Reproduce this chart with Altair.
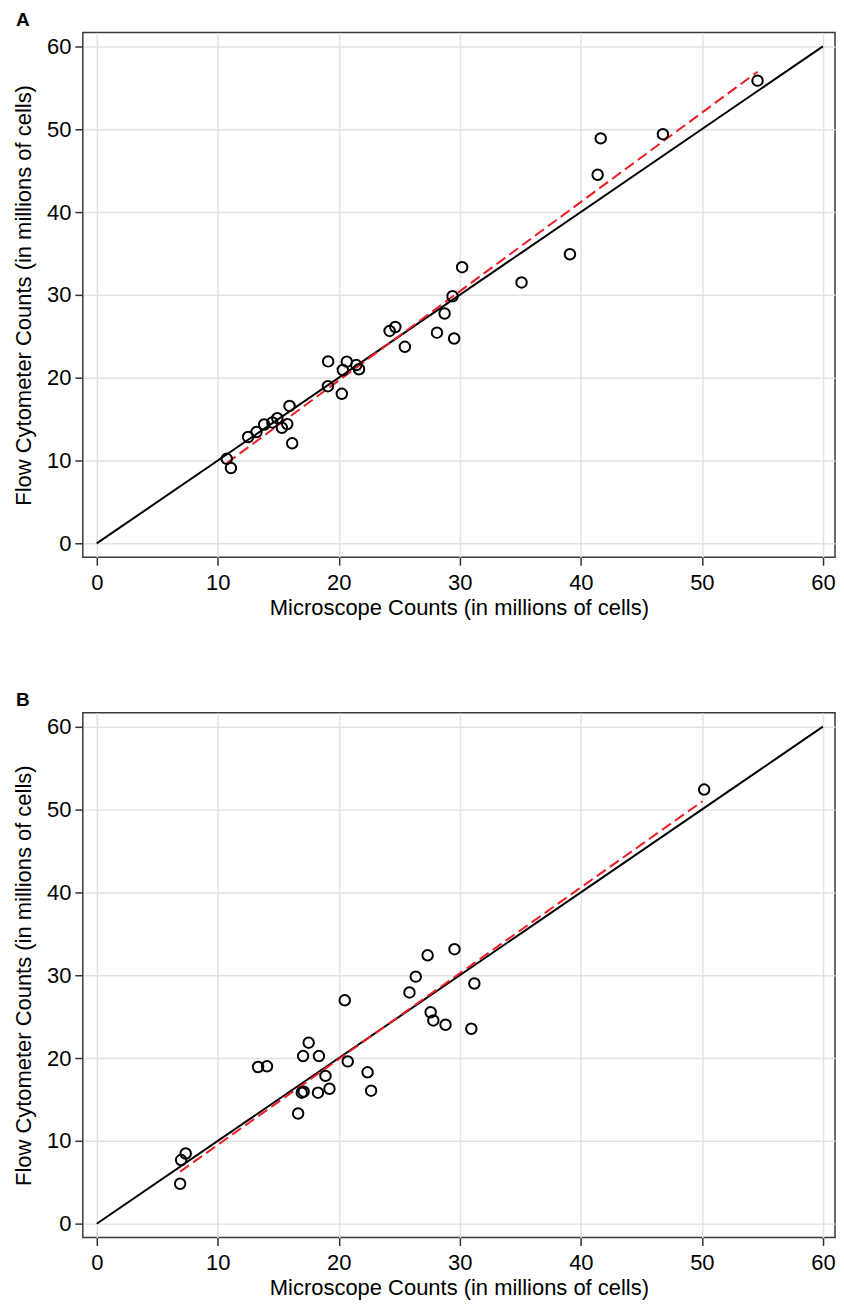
import altair as alt
import pandas as pd

# ---- Panel A data (microscope vs flow cytometer, millions of cells) ----
a_micro = [10.74, 11.09, 12.51, 13.2, 13.83, 14.51, 14.92, 15.30, 15.74, 15.93, 16.15,
           19.12, 19.1, 20.25, 20.33, 20.66, 21.45, 21.67, 24.2, 24.67, 25.46,
           28.11, 28.74, 29.4, 29.53, 30.19, 35.1, 39.1, 41.39, 41.64, 46.78, 54.6]
a_flow = [10.21, 9.09, 12.84, 13.44, 14.35, 14.6, 15.12, 13.96, 14.4, 16.59, 12.08,
          21.97, 18.98, 18.06, 20.93, 21.94, 21.53, 21.02, 25.65, 26.12, 23.73,
          25.44, 27.75, 29.83, 24.73, 33.34, 31.5, 34.9, 44.5, 48.89, 49.4, 55.86]
a_fit_x = [10.74, 54.6]
a_fit_y = [9.69, 56.94]

# ---- Panel B data ----
b_micro = [6.89, 6.97, 7.35, 13.33, 14.07, 16.64, 16.94, 17.1, 17.05, 17.51, 18.36,
           18.9, 18.28, 19.23, 20.49, 20.74, 22.38, 22.67, 25.84, 26.36, 27.34,
           29.56, 31.2, 27.59, 27.81, 28.82, 30.95, 50.19]
b_flow = [4.83, 7.69, 8.48, 18.92, 19.0, 13.31, 15.82, 15.95, 20.24, 21.86, 20.24,
          17.85, 15.82, 16.3, 26.97, 19.6, 18.28, 16.06, 27.92, 29.83, 32.4,
          33.14, 29.0, 25.53, 24.54, 24.02, 23.54, 52.41]
b_fit_x = [6.89, 50.05]
b_fit_y = [6.30, 51.0]

# identity line
ident = [0, 60]
ticks = [0, 10, 20, 30, 40, 50, 60]

X_TITLE = "Microscope Counts (in millions of cells)"
Y_TITLE = "Flow Cytometer Counts (in millions of cells)"
FONT = "Liberation Sans"

W, H = 754, 526

xscale = alt.Scale(domain=[-1.15, 61.0], nice=False, zero=False)
yscale = alt.Scale(domain=[-1.67, 61.67], nice=False, zero=False)


def panel(label, mx, fy, fx, fyy):
    pts = pd.DataFrame({"micro": mx, "flow": fy})
    idl = pd.DataFrame({"micro": ident, "flow": ident})
    fit = pd.DataFrame({"micro": fx, "flow": fyy})
    lab = pd.DataFrame({"t": [label]})

    xenc = alt.X("micro:Q", scale=xscale, title=X_TITLE,
                 axis=alt.Axis(values=ticks))
    yenc = alt.Y("flow:Q", scale=yscale, title=Y_TITLE,
                 axis=alt.Axis(values=ticks))

    id_line = alt.Chart(idl).mark_line(color="black", strokeWidth=2).encode(
        x=xenc, y=yenc)
    fit_line = alt.Chart(fit).mark_line(
        color="#ee1c25", strokeWidth=2, strokeDash=[11, 5]).encode(x=xenc, y=yenc)
    points = alt.Chart(pts).mark_point(
        shape="circle", filled=False, color="black", size=110, strokeWidth=2,
        opacity=1).encode(x=xenc, y=yenc)
    letter = alt.Chart(lab).mark_text(
        align="left", baseline="alphabetic", font=FONT, fontSize=19,
        fontWeight="bold", color="black").encode(
        text="t:N", x=alt.value(-67), y=alt.value(-7))

    return alt.layer(id_line, fit_line, points, letter).properties(
        width=W, height=H)


chart = alt.vconcat(
    panel("A", a_micro, a_flow, a_fit_x, a_fit_y),
    panel("B", b_micro, b_flow, b_fit_x, b_fit_y),
    spacing=71,
).configure_axis(
    labelFont=FONT, labelFontSize=22, labelColor="black",
    titleFont=FONT, titleFontSize=22, titleFontWeight="normal", titleColor="black",
    tickSize=8, tickColor="#333333", tickWidth=1.5,
    domain=False,
    grid=True, gridColor="#e2e2e2", gridWidth=1.5,
).configure_axisY(
    labelPadding=4,
    titlePadding=11,
).configure_axisX(
    labelPadding=7,
    titlePadding=4,
).configure_view(
    stroke="#3a3a3a", strokeWidth=1.5,
).properties(
    padding={"left": 3, "top": 0, "right": 0, "bottom": 0},
    background="white",
)

chart.save("out.html", embed_options={"renderer": "svg", "actions": False})
